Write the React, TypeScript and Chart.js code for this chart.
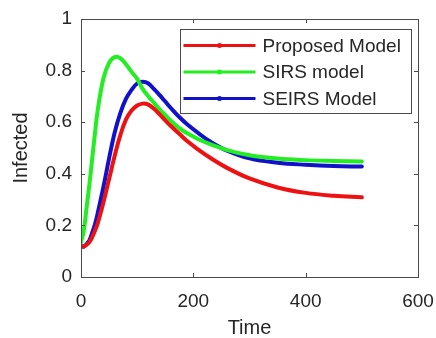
import React, { useEffect, useRef } from "react";
import { Chart, registerables } from "chart.js";

Chart.register(...registerables);

const times = [0, 5, 10, 15, 20, 25, 30, 40, 50, 60, 70, 80, 90, 100, 110, 120, 130, 140, 150, 160, 175, 190, 210, 230, 260, 300, 350, 400, 450, 500];
const proposed = [0.12, 0.118, 0.125, 0.135, 0.155, 0.18, 0.21, 0.29, 0.38, 0.47, 0.55, 0.61, 0.645, 0.665, 0.672, 0.668, 0.652, 0.63, 0.607, 0.585, 0.555, 0.525, 0.492, 0.462, 0.423, 0.382, 0.347, 0.326, 0.315, 0.309];
const sirs = [0.135, 0.18, 0.27, 0.36, 0.46, 0.56, 0.65, 0.77, 0.83, 0.852, 0.848, 0.825, 0.795, 0.768, 0.728, 0.70, 0.675, 0.65, 0.628, 0.606, 0.577, 0.556, 0.533, 0.515, 0.492, 0.472, 0.459, 0.453, 0.45, 0.448];
const seirs = [0.12, 0.118, 0.128, 0.142, 0.172, 0.205, 0.25, 0.35, 0.46, 0.56, 0.635, 0.69, 0.725, 0.75, 0.757, 0.75, 0.728, 0.705, 0.68, 0.655, 0.62, 0.59, 0.556, 0.525, 0.49, 0.46, 0.443, 0.435, 0.43, 0.428];

const seriesLabels = ["Proposed Model", "SIRS model", "SEIRS Model"];
const seriesColors = ["#ee1111", "#22ee22", "#1111cc"];
const xTicks = [0, 200, 400, 600];
const yTicks = [0, 0.2, 0.4, 0.6, 0.8, 1];

const FONT = "'Liberation Sans', Arial, Helvetica, sans-serif";
const TEXT = "#262626";
const AXIS = "#4a4a4a";

const matlabPlugin = {
  id: "matlabBox",
  afterDraw(chart: any) {
    const ctx = chart.ctx;
    const { left, right, top, bottom } = chart.chartArea;
    const xs = chart.scales.x;
    const ys = chart.scales.y;
    ctx.save();
    ctx.strokeStyle = AXIS;
    ctx.lineWidth = 1;
    ctx.strokeRect(Math.round(left) + 0.5, Math.round(top) + 0.5, Math.round(right - left), Math.round(bottom - top));
    const tl = 4;
    ctx.beginPath();
    xTicks.forEach((v) => {
      const px = Math.round(xs.getPixelForValue(v)) + 0.5;
      ctx.moveTo(px, bottom);
      ctx.lineTo(px, bottom - tl);
      ctx.moveTo(px, top);
      ctx.lineTo(px, top + tl);
    });
    yTicks.forEach((v) => {
      const py = Math.round(ys.getPixelForValue(v)) + 0.5;
      ctx.moveTo(left, py);
      ctx.lineTo(left + tl, py);
      ctx.moveTo(right, py);
      ctx.lineTo(right - tl, py);
    });
    ctx.stroke();

    // legend
    const bw = 231;
    const bh = 84;
    const bx = Math.round(right - 7 - bw) + 0.5;
    const by = Math.round(top + 10) + 0.5;
    ctx.fillStyle = "#ffffff";
    ctx.fillRect(bx, by, bw, bh);
    ctx.strokeStyle = AXIS;
    ctx.strokeRect(bx, by, bw, bh);
    ctx.font = `19px ${FONT}`;
    ctx.textBaseline = "middle";
    ctx.textAlign = "left";
    chart.data.datasets.forEach((ds: any, i: number) => {
      const ry = by + 16 + i * 26.5;
      ctx.strokeStyle = ds.borderColor;
      ctx.lineWidth = 3;
      ctx.beginPath();
      ctx.moveTo(bx + 3, ry);
      ctx.lineTo(bx + 75, ry);
      ctx.stroke();
      ctx.fillStyle = ds.borderColor;
      ctx.beginPath();
      ctx.arc(bx + 39, ry, 2.5, 0, Math.PI * 2);
      ctx.fill();
      ctx.fillStyle = TEXT;
      ctx.fillText(ds.label, bx + 82, ry + 1);
    });
    ctx.restore();
  },
};

export default function App() {
  const ref = useRef<HTMLCanvasElement | null>(null);
  useEffect(() => {
    if (!ref.current) return;
    const mk = (vals: number[]) => times.map((t, i) => ({ x: t, y: vals[i] }));
    const all = [proposed, sirs, seirs];
    const chart = new Chart(ref.current, {
      type: "line",
      data: {
        datasets: all.map((vals, i) => ({
          label: seriesLabels[i],
          data: mk(vals),
          borderColor: seriesColors[i],
          backgroundColor: seriesColors[i],
          borderWidth: 4,
          pointRadius: 0,
          fill: false,
          tension: 0.4,
          borderCapStyle: "round" as const,
          borderJoinStyle: "round" as const,
        })),
      },
      options: {
        responsive: false,
        animation: false,
        layout: { padding: { left: 0, right: 18, top: 19, bottom: 0 } },
        plugins: { legend: { display: false }, tooltip: { enabled: false } },
        scales: {
          x: {
            type: "linear",
            min: 0,
            max: 600,
            afterFit: (s: any) => {
              s.height = 61;
              s.paddingLeft = 0;
              s.paddingRight = 0;
            },
            afterBuildTicks: (s: any) => {
              s.ticks = xTicks.map((v) => ({ value: v }));
            },
            grid: { display: false, drawTicks: false },
            border: { display: false },
            ticks: {
              color: TEXT,
              font: { family: FONT, size: 19 },
              padding: 13,
              maxRotation: 0,
            },
            title: {
              display: true,
              text: "Time",
              color: TEXT,
              font: { family: FONT, size: 20, lineHeight: 1 },
              padding: { top: 0, bottom: 0 },
            },
          },
          y: {
            type: "linear",
            min: 0,
            max: 1,
            afterFit: (s: any) => {
              s.width = 81;
              s.paddingTop = 0;
              s.paddingBottom = 0;
            },
            afterBuildTicks: (s: any) => {
              s.ticks = yTicks.map((v) => ({ value: v }));
            },
            grid: { display: false, drawTicks: false },
            border: { display: false },
            ticks: {
              color: TEXT,
              font: { family: FONT, size: 19 },
              padding: 9,
              callback: (v: any) => String(Number(v)),
            },
            title: {
              display: true,
              text: "Infected",
              color: TEXT,
              font: { family: FONT, size: 20 },
              padding: { top: 9, bottom: 0 },
            },
          },
        },
      },
      plugins: [matlabPlugin],
    });
    return () => chart.destroy();
  }, []);
  return (
    <div style={{ position: "absolute", left: 0, top: 0, width: 436, height: 338, background: "#fff" }}>
      <canvas ref={ref} width={436} height={338} />
    </div>
  );
}
